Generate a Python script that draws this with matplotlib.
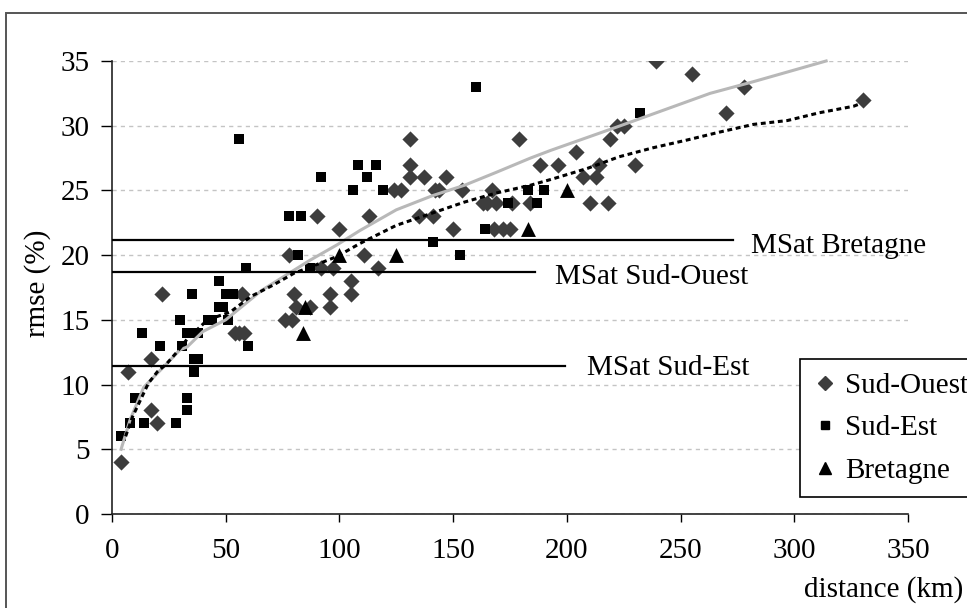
import matplotlib
matplotlib.use("Agg")
import matplotlib.pyplot as plt
from matplotlib.lines import Line2D
from matplotlib.patches import Rectangle

plt.rcParams['font.family'] = ['Liberation Serif', 'DejaVu Serif']

# station distance (km) / rmse (%) by region
so_x = [4, 7, 17, 22, 17, 20, 54, 56, 58, 57, 78, 76, 79, 80, 81, 87, 90,
        92, 97, 96, 96, 100, 105, 105, 111, 117, 113, 131, 131, 131, 137, 147,
        124, 127, 142, 144, 154, 135, 141, 150, 167, 163, 165, 169, 176, 184,
        168, 172, 175, 179, 188, 196, 204, 207, 213, 214, 210, 218, 219, 222,
        225, 230, 239, 255, 270, 278, 330]
so_y = [4, 11, 12, 17, 8, 7, 14, 14, 14, 17, 20, 15, 15, 17, 16, 16, 23,
        19, 19, 17, 16, 22, 18, 17, 20, 19, 23, 29, 27, 26, 26, 26,
        25, 25, 25, 25, 25, 23, 23, 22, 25, 24, 24, 24, 24, 24,
        22, 22, 22, 29, 27, 27, 28, 26, 26, 27, 24, 24, 29, 30,
        30, 27, 35, 34, 31, 33, 32]

se_x = [4, 8, 10, 13, 14, 21, 28, 30, 31, 33, 33, 33, 35, 36, 36, 38, 36, 38,
        42, 44, 47, 49, 47, 50, 53, 51, 59, 60, 56, 78, 83, 82, 87, 92, 106,
        108, 112, 116, 119, 141, 153, 160, 164, 174, 183, 187, 190, 232]
se_y = [6, 7, 9, 14, 7, 13, 7, 15, 13, 14, 9, 8, 17, 14, 12, 12, 11, 14,
        15, 15, 16, 16, 18, 17, 17, 15, 19, 13, 29, 23, 23, 20, 19, 26, 25,
        27, 26, 27, 25, 21, 20, 33, 22, 24, 25, 24, 25, 31]

br_x = [84, 85, 100, 125, 183, 200]
br_y = [14, 16, 20, 20, 22, 25]

# fitted trends
fit_x = [4, 8, 14, 24, 30, 33, 40, 50, 66, 87, 99, 109, 125, 141, 155, 169,
         184, 193, 222, 263, 282, 314]
fit_y = [5.0, 7.3, 9.8, 11.6, 12.7, 12.9, 14.1, 15.0, 17.3, 19.6, 20.8, 21.9,
         23.5, 24.6, 25.4, 26.4, 27.5, 28.1, 29.9, 32.5, 33.4, 35.0]

avg_x = [6, 9, 16, 20, 24, 28, 33, 42, 52, 61, 71, 80, 89, 99, 109, 125, 140,
         155, 169, 184, 194, 209, 223, 238, 253, 267, 282, 297, 311, 326, 329]
avg_y = [6.0, 7.5, 10.1, 11.0, 11.6, 12.4, 13.5, 15.0, 15.6, 16.8, 17.7, 18.6,
         19.2, 19.9, 20.9, 22.3, 23.2, 24.1, 24.8, 25.4, 25.9, 26.7, 27.6, 28.3,
         28.9, 29.5, 30.1, 30.4, 31.0, 31.5, 31.7]

# MSat reference levels
msat_names = ['MSat Bretagne', 'MSat Sud-Ouest', 'MSat Sud-Est']
msat_vals = [21.2, 18.7, 11.4]
msat_end = [273, 186, 199]
msat_lab = [(281, 20.7), (195, 18.3), (209, 11.3)]

fs = 21

fig = plt.figure(figsize=(9.67, 6.08), dpi=100)
ax = fig.add_axes([0.1158, 0.1546, 0.8232, 0.7451])

ax.yaxis.grid(True, color='#c4c4c4', linestyle=(0, (3, 3)), linewidth=1)
ax.set_axisbelow(True)

ax.scatter(so_x, so_y, marker='D', s=68, color='#3d3d3d', linewidths=0, zorder=3)
ax.scatter(se_x, se_y, marker='s', s=56, color='black', linewidths=0, zorder=3)
ax.scatter(br_x, br_y, marker='^', s=115, color='black', linewidths=0, zorder=3)

ax.plot(fit_x, fit_y, color='#b8b8b8', lw=2.2, zorder=4, clip_on=False)
ax.plot(avg_x, avg_y, color='black', lw=2.2, linestyle=(0, (1.6, 1.2)), zorder=4)

for name, v, xe, (tx, ty) in zip(msat_names, msat_vals, msat_end, msat_lab):
    ax.plot([0, xe], [v, v], color='black', lw=1.6, zorder=4)
    ax.text(tx, ty, name, fontsize=fs, va='center', ha='left')

ax.set_xlim(0, 350)
ax.set_ylim(0, 35)
ax.set_xticks(range(0, 351, 50))
ax.set_yticks(range(0, 36, 5))
for s in ['top', 'right']:
    ax.spines[s].set_visible(False)
for s in ['left', 'bottom']:
    ax.spines[s].set_color('#222222')
    ax.spines[s].set_linewidth(1.2)
ax.tick_params(axis='x', direction='out', length=6, width=1, pad=11, labelsize=fs)
ax.tick_params(axis='y', direction='out', length=8, width=1, pad=8, labelsize=fs)

ax.set_ylabel('rmse (%)', fontsize=fs)
ax.yaxis.set_label_coords(-0.076, 0.51)
fig.text(0.996, 0.031, 'distance (km)', fontsize=fs, ha='right', va='center')

handles = [
    Line2D([], [], marker='D', color='#3d3d3d', ls='none', markersize=7),
    Line2D([], [], marker='s', color='black', ls='none', markersize=6),
    Line2D([], [], marker='^', color='black', ls='none', markersize=8),
]
leg = ax.legend(handles, ['Sud-Ouest', 'Sud-Est', 'Bretagne'],
                loc='lower left', bbox_to_anchor=(0.827, 0.1826),
                bbox_transform=fig.transFigure, borderaxespad=0,
                fontsize=fs, frameon=True, fancybox=False, framealpha=1,
                edgecolor='black', handlelength=0.8, handletextpad=0.3,
                labelspacing=0.55, borderpad=0.45)
leg.get_frame().set_linewidth(1.2)

# outer border of the figure
fig.patches.append(Rectangle((0.0062, -0.2), 1.5, 1.1786, transform=fig.transFigure,
                             fill=False, edgecolor='#555555', lw=1.4))

fig.savefig('out.png', dpi=100)
